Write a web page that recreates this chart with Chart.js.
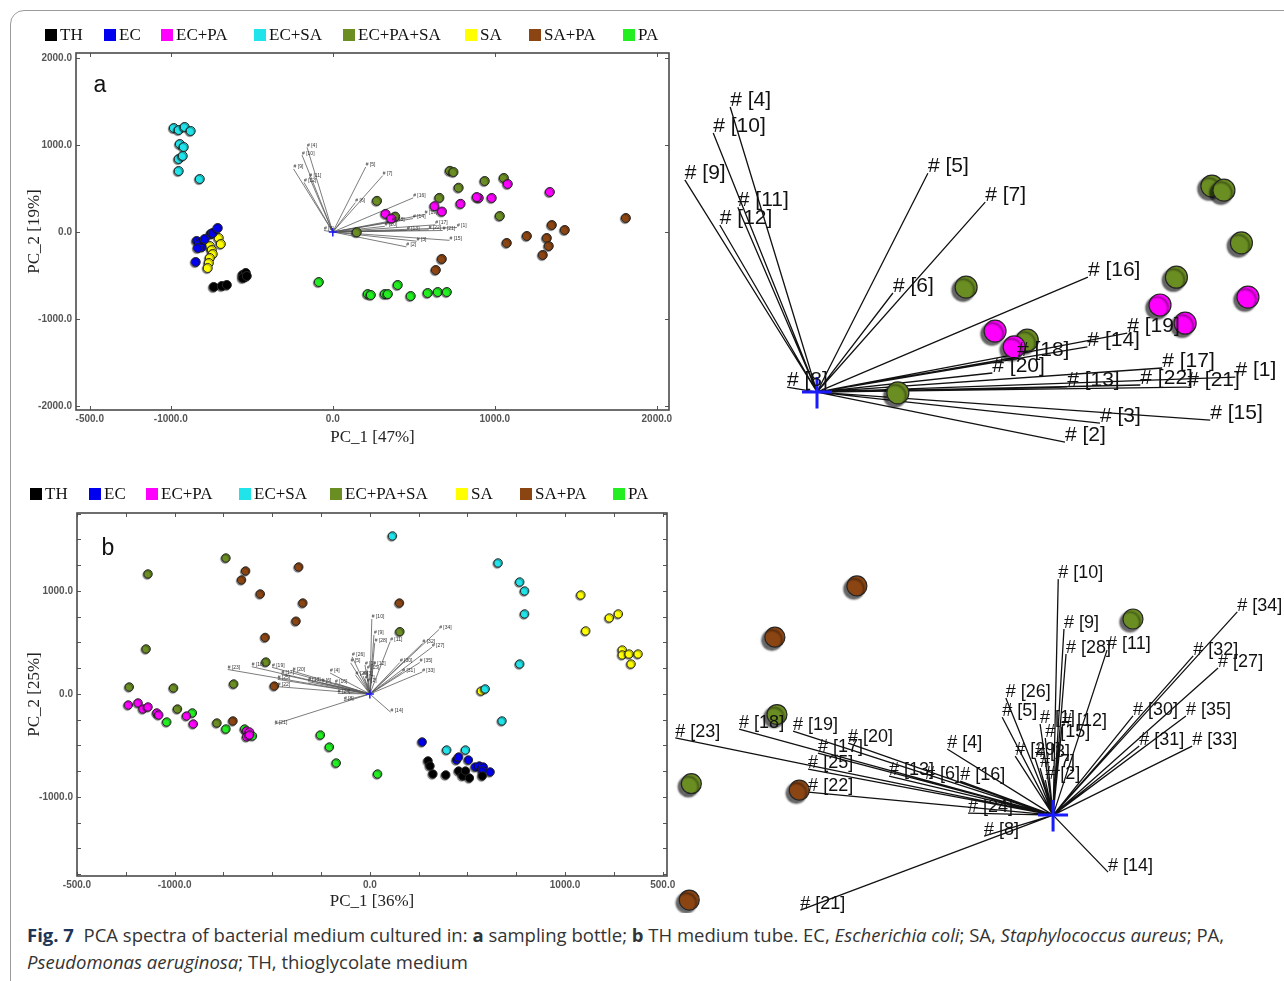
<!DOCTYPE html>
<html><head><meta charset="utf-8">
<script src="https://cdn.jsdelivr.net/npm/chart.js@4.4.1/dist/chart.umd.min.js"></script>
<style>
html,body{margin:0;padding:0;background:#fff;width:1284px;height:981px;overflow:hidden;position:relative;}
.frame{position:absolute;left:10px;top:10px;width:1320px;height:1020px;border:1px solid #9a9a9a;border-radius:14px;box-sizing:border-box;}
canvas{position:absolute;}
#caption{position:absolute;left:27px;top:921px;font-family:"Open Sans",sans-serif;font-size:18.5px;line-height:27px;color:#333;white-space:nowrap;}
#caption .fig{color:#1f3557;font-weight:bold;}
</style></head><body>
<div class="frame"></div>
<canvas id="ca" width="655" height="440" style="left:20px;top:20px"></canvas>
<canvas id="cra" width="609" height="380" style="left:675px;top:80px"></canvas>
<canvas id="cb" width="662" height="450" style="left:20px;top:470px"></canvas>
<canvas id="crb" width="616" height="365" style="left:668px;top:548px"></canvas>
<div id="caption"><span class="fig">Fig. 7</span>&nbsp; PCA spectra of bacterial medium cultured in: <b>a</b> sampling bottle; <b>b</b> TH medium tube. EC, <i>Escherichia coli</i>; SA, <i>Staphylococcus aureus</i>; PA,<br><i>Pseudomonas aeruginosa</i>; TH, thioglycolate medium</div>
<script>
// ---------------- DATA ----------------
const groups = ['TH','EC','EC+PA','EC+SA','EC+PA+SA','SA','SA+PA','PA'];

// panel a scores [PC_1, PC_2]
const a_TH = [[-735,-632],[-685,-621],[-654,-609],[-556,-494],[-537,-471],[-543,-517],[-556,-529],[-531,-506]];
const a_EC = [[-840,-103],[-821,-126],[-809,-172],[-833,-184],[-753,-23],[-741,-11],[-710,46],[-846,-345],[-790,-80]];
const a_ECPA = [[1340,460],[1080,552],[981,391],[901,391],[889,402],[789,324],[674,235],[628,297],[326,208],[361,154]];
const a_ECSA = [[-981,1195],[-951,1172],[-914,1207],[-877,1161],[-944,1011],[-920,977],[-951,839],[-926,874],[-951,701],[-821,609]];
const a_ECPASA = [[723,703],[745,689],[777,509],[938,586],[1056,621],[658,392],[273,358],[385,177],[148,-3],[1031,184]];
const a_SA = [[-759,-161],[-747,-207],[-741,-253],[-759,-299],[-765,-356],[-772,-414],[-704,-69],[-691,-138]];
const a_SAPA = [[1809,161],[1352,80],[1432,23],[1198,-46],[1321,-69],[1333,-161],[1296,-264],[1074,-126],[673,-310],[636,-437]];
const a_PA = [[-86,-575],[216,-713],[235,-724],[321,-713],[340,-713],[401,-609],[481,-736],[586,-701],[648,-690],[704,-690]];

// panel a loadings
const a_vecNames = [1,2,3,4,5,6,7,8,9,10,11,12,13,14,15,16,17,18,19,20,21,22];
const a_vecX = [766,454,518,-159,203,139,308,-55,-242,-190,-145,-178,458,495,720,496,632,366,568,321,678,592];
const a_vecY = [51,-171,-106,973,747,338,648,17,724,884,631,570,17,154,-96,392,82,119,201,65,17,24];

// panel b scores
const b_TH = [[298,-650],[308,-699],[323,-777],[389,-786],[455,-748],[475,-796],[490,-748],[510,-816],[576,-796]];
const b_EC = [[268,-466],[444,-641],[455,-612],[505,-641],[540,-709],[561,-699],[581,-709],[576,-748],[616,-757]];
const b_ECPA = [[-1237,-107],[-1187,-87],[-1162,-146],[-1136,-126],[-1091,-184],[-1081,-204],[-939,-214],[-904,-291],[-631,-359],[-616,-369],[-631,-417],[-616,-398]];
const b_ECSA = [[116,1534],[657,1272],[768,1087],[793,1000],[793,777],[768,291],[591,49],[677,-262],[394,-544],[490,-544]];
const b_ECPASA = [[-737,1320],[-1136,1165],[-1146,437],[-1232,68],[-1005,58],[-985,-146],[-783,-282],[-697,97],[-532,310],[154,605]];
const b_SA = [[1081,961],[1227,738],[1273,777],[1106,612],[1293,427],[1293,379],[1328,388],[1374,388],[1338,291],[571,29]];
const b_SAPA = [[-364,1233],[-636,1194],[-657,1107],[-561,971],[-343,883],[-378,707],[-536,549],[-489,77],[-701,-262],[152,883]];
const b_PA = [[-1040,-272],[-909,-184],[-737,-340],[-641,-340],[-601,-408],[-253,-398],[-207,-515],[-172,-670],[40,-777]];

// panel b loadings
const b_vecNames = [1,2,3,4,5,6,7,8,9,10,11,12,13,14,15,16,17,18,19,20,21,22,23,24,25,26,27,28,29,30,31,32,33,34,35];
const b_vecX = [-25,-15,-35,-204,-98,-247,-25,-133,21,10,104,17,-316,106,-15,-179,-453,-605,-501,-395,-487,-472,-728,-164,-472,-91,318,25,-73,154,166,270,268,355,256];
const b_vecY = [281,108,176,204,302,108,145,-65,574,728,509,272,120,-176,238,105,191,265,259,222,-293,71,238,6,142,361,454,497,182,306,213,491,213,627,306];

// axis ticks
const a_xTickVals = [-1500,-1000,0,1000,2000];
const a_xTickText = ['-500.0','-1000.0','0.0','1000.0','2000.0'];
const a_yTickVals = [-2000,-1000,0,1000,2000];
const a_yTickText = ['-2000.0','-1000.0','0.0','1000.0','2000.0'];
const b_xTickVals = [-1500,-1000,0,1000,1500];
const b_xTickText = ['-500.0','-1000.0','0.0','1000.0','500.0'];
const b_xMinor = [-1500,-1250,-1000,-750,-500,-250,0,250,500,750,1000,1250,1500];
const b_yTickVals = [-1000,0,1000];
const b_yTickText = ['-1000.0','0.0','1000.0'];
const b_yMinor = [-1750,-1500,-1250,-1000,-750,-500,-250,0,250,500,750,1000,1250,1500,1750];

// ---------------- STYLE ----------------
const groupColors = ['#000000','#0000ee','#ff00ff','#20e4ea','#6b8e23','#ffff00','#8b4513','#22ee22'];
const legendBoxXA = [25,84,141,234,323,445,509,603];
const legendBoxXB = [10,69,126,219,310,436,500,593];

function makeDatasets(series, r, bw){
  return groups.map((g,i)=>({
    label:g,
    data:series[i].map(p=>({x:p[0],y:p[1]})),
    backgroundColor:groupColors[i], borderColor:'#262626', borderWidth:bw,
    pointRadius:r, pointHoverRadius:r
  }));
}

const decor = {
  id:'decor',
  beforeDatasetsDraw(chart,args,o){
    const {ctx, scales:{x,y}} = chart;
    ctx.save();
    if (o.vec){
      const v = o.vec;
      const x0 = x.getPixelForValue(0), y0 = y.getPixelForValue(0);
      ctx.strokeStyle = v.color; ctx.lineWidth = v.width;
      ctx.beginPath();
      v.xs.forEach((vx,i)=>{ ctx.moveTo(x0,y0); ctx.lineTo(x.getPixelForValue(vx), y.getPixelForValue(v.ys[i])); });
      ctx.stroke();
      ctx.strokeStyle = '#1a1aff'; ctx.lineWidth = v.crossW;
      ctx.beginPath();
      ctx.moveTo(x0-v.cross,y0); ctx.lineTo(x0+v.cross,y0);
      ctx.moveTo(x0,y0-v.cross); ctx.lineTo(x0,y0+v.cross*1.1);
      ctx.stroke();
    }
    if (o.shadow){
      ctx.shadowColor = o.shadow.c; ctx.shadowOffsetX = o.shadow.dx;
      ctx.shadowOffsetY = o.shadow.dy; ctx.shadowBlur = o.shadow.blur;
    }
  },
  afterDatasetsDraw(chart,args,o){
    const {ctx, scales:{x,y}} = chart;
    ctx.restore();
    if (o.vec){
      const v = o.vec;
      ctx.save();
      ctx.fillStyle = v.textColor; ctx.font = v.font;
      ctx.textAlign = 'left'; ctx.textBaseline = 'alphabetic';
      v.xs.forEach((vx,i)=>{
        ctx.fillText('# [' + v.names[i] + ']', x.getPixelForValue(vx), y.getPixelForValue(v.ys[i]) - v.dy);
      });
      ctx.restore();
    }
  },
  afterDraw(chart,args,o){
    const {ctx, chartArea:a, scales:{x,y}} = chart;
    ctx.save();
    if (o.frame){
      const f = o.frame;
      ctx.strokeStyle = '#555'; ctx.lineWidth = 1;
      ctx.beginPath();
      f.xTicks.forEach(v=>{ const p = Math.round(x.getPixelForValue(v))+0.5;
        ctx.moveTo(p,a.bottom); ctx.lineTo(p,a.bottom-f.len);
        ctx.moveTo(p,a.top); ctx.lineTo(p,a.top+f.len); });
      f.yTicks.forEach(v=>{ const p = Math.round(y.getPixelForValue(v))+0.5;
        ctx.moveTo(a.left,p); ctx.lineTo(a.left+f.len,p);
        ctx.moveTo(a.right,p); ctx.lineTo(a.right-f.len,p); });
      ctx.stroke();
      ctx.strokeStyle = '#4a4a4a'; ctx.lineWidth = 1.6;
      ctx.strokeRect(a.left, a.top, a.right-a.left, a.bottom-a.top);
    }
    if (o.legend){
      const L = o.legend;
      ctx.font = L.size + 'px "Liberation Serif"';
      ctx.textBaseline = 'middle'; ctx.textAlign = 'left';
      chart.data.datasets.forEach((ds,i)=>{
        const xx = L.xs[i];
        ctx.fillStyle = ds.backgroundColor;
        ctx.fillRect(xx, L.y-6, 12, 12);
        ctx.fillStyle = '#111';
        ctx.fillText(ds.label, xx+15, L.y+1);
      });
    }
    if (o.letter){
      ctx.font = '23px "Liberation Sans"'; ctx.fillStyle = '#111';
      ctx.textAlign = 'center'; ctx.textBaseline = 'middle';
      ctx.fillText(o.letter.t, o.letter.x, o.letter.y);
    }
    ctx.restore();
  }
};

const tickFont = {family:'"Liberation Sans"', size:10, weight:'bold'};
const titleFont = {family:'"Liberation Serif"', size:17};

function leftChart(id, series, cfg){
  return new Chart(document.getElementById(id), {
    type:'scatter',
    data:{datasets:makeDatasets(series, cfg.r, 1)},
    options:{
      responsive:false, animation:false, events:[],
      layout:{padding:cfg.pad, autoPadding:false},
      plugins:{legend:{display:false}, tooltip:{enabled:false},
        decor:{
          vec:{xs:cfg.vx, ys:cfg.vy, names:cfg.vn, color:'#5a5a5a', width:0.8, cross:4, crossW:1.5, textColor:'#333', font:'5px "Liberation Sans"', dy:0.5},
          shadow:{c:'rgba(0,0,0,0.45)', dx:-1, dy:1, blur:1},
          frame:{xTicks:cfg.xMinor, yTicks:cfg.yMinor, len:4},
          legend:cfg.legend, letter:cfg.letter
        }},
      scales:{
        x:{type:'linear', min:cfg.xmin, max:cfg.xmax,
          afterBuildTicks:s=>{ s.ticks = cfg.xVals.map(v=>({value:v})); },
          afterFit:s=>{ s.height = cfg.xh; s.paddingLeft = 0; s.paddingRight = 0; },
          grid:{display:false, drawTicks:false, tickLength:0}, border:{display:false},
          ticks:{callback:(v,i)=>cfg.xText[i], autoSkip:false, maxRotation:0, padding:3, font:tickFont, color:'#555'},
          title:{display:true, text:cfg.xTitle, font:titleFont, color:'#222', padding:{top:0,bottom:cfg.xtp}}
        },
        y:{type:'linear', min:cfg.ymin, max:cfg.ymax,
          afterBuildTicks:s=>{ s.ticks = cfg.yVals.map(v=>({value:v})); },
          afterFit:s=>{ s.width = cfg.yw; s.paddingTop = 0; s.paddingBottom = 0; },
          grid:{display:false, drawTicks:false, tickLength:0}, border:{display:false},
          ticks:{callback:(v,i)=>cfg.yText[i], autoSkip:false, padding:4, font:tickFont, color:'#555'},
          title:{display:true, text:cfg.yTitle, font:titleFont, color:'#222', padding:{top:4,bottom:0}}
        }
      }
    },
    plugins:[decor]
  });
}

function rightChart(id, series, cfg){
  return new Chart(document.getElementById(id), {
    type:'scatter',
    data:{datasets:makeDatasets(series, cfg.r, 1.2)},
    options:{
      responsive:false, animation:false, events:[],
      layout:{padding:0, autoPadding:false},
      plugins:{legend:{display:false}, tooltip:{enabled:false},
        decor:{
          vec:{xs:cfg.vx, ys:cfg.vy, names:cfg.vn, color:'#111', width:1.3, cross:15, crossW:3, textColor:'#111', font:cfg.font, dy:1},
          shadow:{c:'rgba(0,0,0,0.6)', dx:-3, dy:3, blur:2}
        }},
      scales:{
        x:{type:'linear', display:false, min:cfg.xmin, max:cfg.xmax},
        y:{type:'linear', display:false, min:cfg.ymin, max:cfg.ymax}
      }
    },
    plugins:[decor]
  });
}

const seriesA = [a_TH,a_EC,a_ECPA,a_ECSA,a_ECPASA,a_SA,a_SAPA,a_PA];
const seriesB = [b_TH,b_EC,b_ECPA,b_ECSA,b_ECPASA,b_SA,b_SAPA,b_PA];

leftChart('ca', seriesA, {
  r:4.5, pad:{top:33,right:6,left:0,bottom:0}, xh:50, yw:56, xtp:12,
  xmin:-1585, xmax:2075, ymin:-2046, ymax:2057,
  xVals:a_xTickVals, xText:a_xTickText, yVals:a_yTickVals, yText:a_yTickText,
  xMinor:a_xTickVals, yMinor:a_yTickVals,
  xTitle:'PC_1 [47%]', yTitle:'PC_2 [19%]',
  vx:a_vecX, vy:a_vecY, vn:a_vecNames,
  legend:{xs:legendBoxXA, y:15, size:17}, letter:{t:'a', x:80, y:66}
});

rightChart('cra', seriesA, {
  r:11, xmin:-260, xmax:855, ymin:-232, ymax:1065,
  vx:a_vecX, vy:a_vecY, vn:a_vecNames, font:'21px "Liberation Sans"'
});

leftChart('cb', seriesB, {
  r:4.2, pad:{top:43,right:15,left:0,bottom:0}, xh:44, yw:57, xtp:8,
  xmin:-1500, xmax:1522, ymin:-1767, ymax:1757,
  xVals:b_xTickVals, xText:b_xTickText, yVals:b_yTickVals, yText:b_yTickText,
  xMinor:b_xMinor, yMinor:b_yMinor,
  xTitle:'PC_1 [36%]', yTitle:'PC_2 [25%]',
  vx:b_vecX, vy:b_vecY, vn:b_vecNames,
  legend:{xs:legendBoxXB, y:24, size:17}, letter:{t:'b', x:88, y:79}
});

rightChart('crb', seriesB, {
  r:10, xmin:-742, xmax:445, ymin:-302, ymax:824,
  vx:b_vecX, vy:b_vecY, vn:b_vecNames, font:'18px "Liberation Sans"'
});
</script>
</body></html>
